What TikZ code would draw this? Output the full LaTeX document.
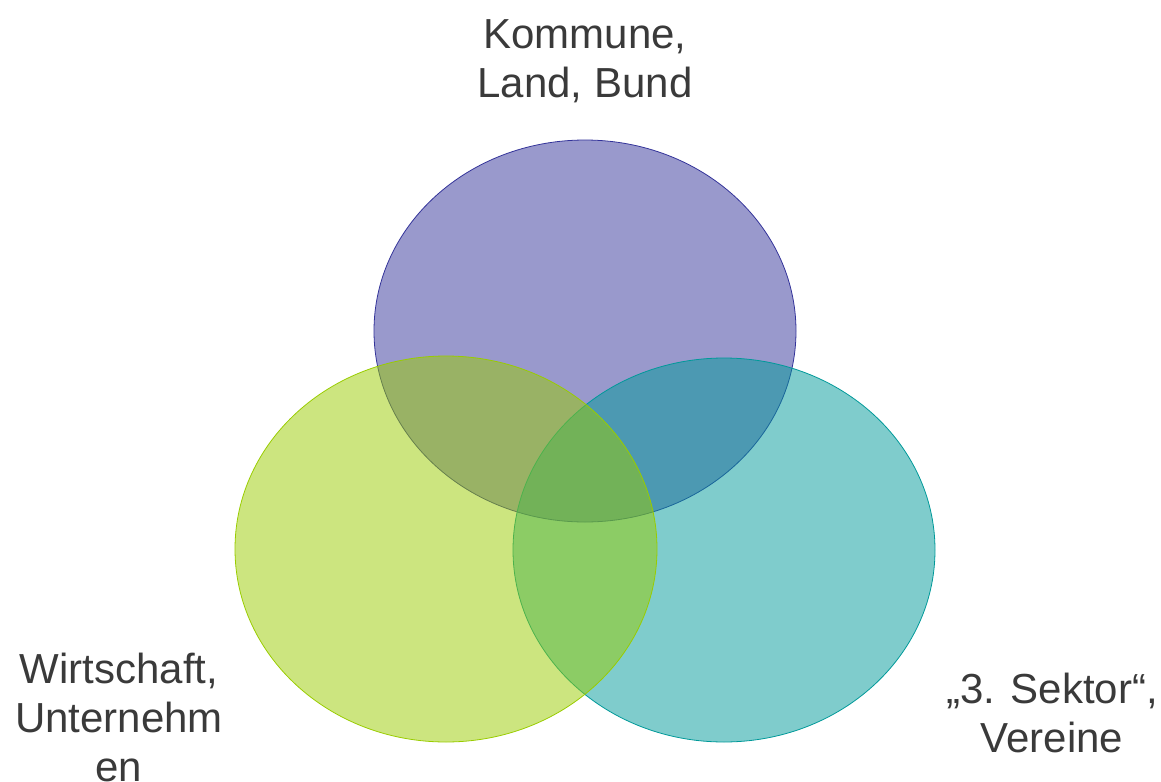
\documentclass[tikz,border=0pt]{standalone}
\usepackage{fontspec}
\setmainfont{Liberation Sans}
\definecolor{topfill}{HTML}{333399}
\definecolor{leftfill}{HTML}{99CC00}
\definecolor{rightfill}{HTML}{009999}
\definecolor{txt}{HTML}{3A3A3A}
\begin{document}
\begin{tikzpicture}[x=0.75pt,y=-0.75pt,
  setc/.style={draw=#1,fill=#1,fill opacity=0.5,draw opacity=1,line width=0.6pt},
  lbl/.style={text=txt,align=center,anchor=base,inner sep=0pt,
    font=\fontsize{31.5pt}{36.75pt}\selectfont}]
\useasboundingbox (0,0) rectangle (1161,782);
\path[setc=topfill] (585,331) ellipse [x radius=211, y radius=191];
\path[setc=rightfill] (724,550) ellipse [x radius=211, y radius=192];
\path[setc=leftfill] (446,549) ellipse [x radius=211, y radius=193];
\node[lbl] (gov) at (585,97) {Kommune,\\Land, Bund};
\node[lbl] (biz) at (119,781) {Wirtschaft,\\Unternehm\\en};
\node[lbl] (ngo) at (1052,752) {„3. Sektor“,\\Vereine};
\end{tikzpicture}
\end{document}
